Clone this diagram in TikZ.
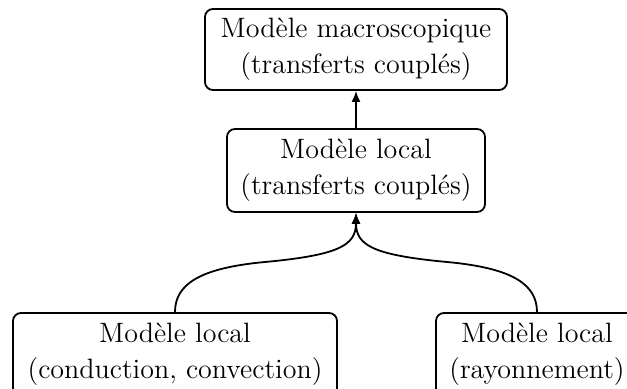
\documentclass[tikz,border=0pt]{standalone}
\usetikzlibrary{arrows.meta}
\tikzset{
  box/.style={draw, line width=0.9pt, rounded corners=4pt, align=center, inner sep=0pt,
    font=\fontsize{14}{18}\selectfont},
  link/.style={line width=0.9pt, -{Latex[length=5.5pt,width=4.5pt]}}
}
\begin{document}
\begin{tikzpicture}[x=0.5pt,y=-0.5pt]
\useasboundingbox (0,0) rectangle (627,389);
\clip (0,0) rectangle (627,389);
\node[box, minimum width=151pt, minimum height=40.5pt] (top) at (356,49.5) {Modèle macroscopique\\(transferts couplés)};
\node[box, minimum width=129pt, minimum height=41.5pt] (mid) at (356,170.5) {Modèle local\\(transferts couplés)};
\node[box, minimum width=162pt, minimum height=41.5pt] (left) at (175,354.5) {Modèle local\\(conduction, convection)};
\node[box, minimum width=101pt, minimum height=41.5pt] (right) at (537,354.5) {Modèle local\\(rayonnement)};
\draw[link] (mid) -- (top);
\coordinate (jl) at (265,262);
\coordinate (jr) at (447,262);
\draw[link] (left.north) .. controls +(0,-28) and (200,268) .. (jl) .. controls (340,255) and (356,245) .. (mid.south);
\draw[link] (right.north) .. controls +(0,-28) and (512,268) .. (jr) .. controls (372,255) and (356,245) .. (mid.south);
\end{tikzpicture}
\end{document}
